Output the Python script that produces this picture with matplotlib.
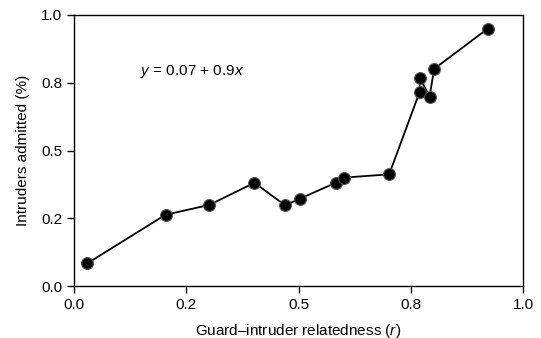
import matplotlib.pyplot as plt

plt.rcParams['font.family'] = ['Liberation Sans', 'DejaVu Sans']
plt.rcParams['mathtext.fontset'] = 'custom'
plt.rcParams['mathtext.rm'] = 'Liberation Sans'
plt.rcParams['mathtext.it'] = 'Liberation Sans:italic'

# data
relatedness = [0.030, 0.204, 0.301, 0.402, 0.470, 0.503, 0.583, 0.601,
               0.702, 0.770, 0.770, 0.792, 0.802, 0.921]
admitted = [0.084, 0.263, 0.299, 0.381, 0.298, 0.322, 0.381, 0.400,
            0.412, 0.717, 0.769, 0.699, 0.801, 0.949]

tick_pos = [0.0, 0.25, 0.5, 0.75, 1.0]
tick_labels = ['0.0', '0.2', '0.5', '0.8', '1.0']

fig = plt.figure(figsize=(5.41, 3.38), dpi=100)
ax = fig.add_axes([74 / 541, 1 - 286 / 338, 449 / 541, 271 / 338])

ax.plot(relatedness, admitted, color='black', lw=1.3, zorder=2)
ax.plot(relatedness, admitted, 'o', color='black', ms=8.5,
        mec='#555555', mew=0.8, zorder=3)

ax.set_xlim(0, 1)
ax.set_ylim(0, 1)
ax.set_xticks(tick_pos)
ax.set_xticklabels(tick_labels)
ax.set_yticks(tick_pos)
ax.set_yticklabels(tick_labels)
ax.tick_params(direction='out', length=5, width=1, pad=3.5,
               labelsize=11, colors='black')
for s in ax.spines.values():
    s.set_linewidth(1)

ax.set_xlabel('Guard\u2013intruder relatedness ($\\it{r}$)', fontsize=11, labelpad=7)
ax.set_ylabel('Intruders admitted (%)', fontsize=11, labelpad=8)

ax.text(0.147, 0.791, '$\\it{y}$ = 0.07 + 0.9$\\it{x}$', fontsize=11,
        va='center', ha='left')

plt.savefig('out.png', dpi=100)
